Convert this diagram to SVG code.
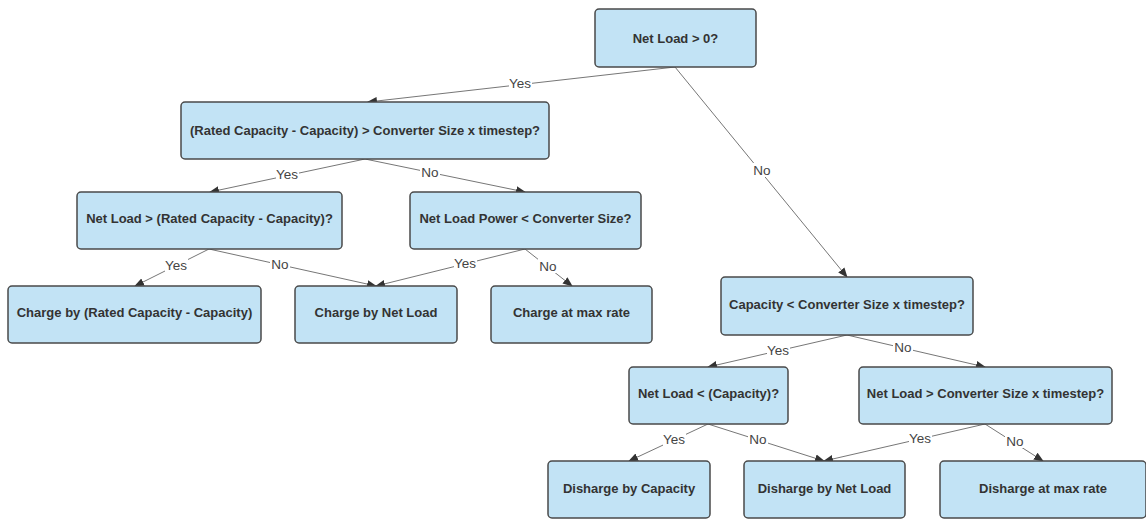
<svg xmlns="http://www.w3.org/2000/svg" width="1146" height="519" viewBox="0 0 1146 519">
<defs>
<marker id="ah" viewBox="0 0 10 10" refX="9" refY="5" markerWidth="10" markerHeight="10" markerUnits="userSpaceOnUse" orient="auto">
<path d="M0,1 L10,5 L0,9 Z" fill="#333"/>
</marker>
<style>
.n rect{fill:#c2e3f5;stroke:#4a4a4a;stroke-width:1.5}
.n text{font-family:"Liberation Sans",Arial,sans-serif;font-weight:bold;font-size:13px;fill:#333;text-anchor:middle;dominant-baseline:central}
.c line{stroke:#666;stroke-width:0.9;marker-end:url(#ah)}
.l rect{fill:#fff}
.l text{font-family:"Liberation Sans",Arial,sans-serif;font-size:13.5px;fill:#444;text-anchor:middle;dominant-baseline:central}
</style>
</defs>
<rect width="1146" height="519" fill="#fff"/>
<g class="c" id="connectors">
<line x1="675" y1="67" x2="368" y2="102"/>
<line x1="675" y1="67" x2="847" y2="277"/>
<line x1="365" y1="159" x2="210" y2="192"/>
<line x1="365" y1="159" x2="525" y2="192"/>
<line x1="209" y1="249" x2="135" y2="286"/>
<line x1="209" y1="249" x2="376" y2="286"/>
<line x1="525" y1="249" x2="376" y2="286"/>
<line x1="525" y1="249" x2="572" y2="286"/>
<line x1="847" y1="335" x2="708" y2="367"/>
<line x1="847" y1="335" x2="985" y2="367"/>
<line x1="708" y1="424" x2="629" y2="461"/>
<line x1="708" y1="424" x2="824" y2="461"/>
<line x1="985" y1="424" x2="824" y2="461"/>
<line x1="985" y1="424" x2="1043" y2="461"/>
</g>
<g class="l" id="labels">
<rect x="509" y="76" width="23" height="14"/><text x="520" y="83">Yes</text>
<rect x="752" y="163" width="20" height="14"/><text x="762" y="170">No</text>
<rect x="276" y="167" width="23" height="14"/><text x="287" y="174">Yes</text>
<rect x="420" y="165" width="20" height="14"/><text x="430" y="172">No</text>
<rect x="165" y="258" width="23" height="14"/><text x="176" y="265">Yes</text>
<rect x="270" y="257" width="20" height="14"/><text x="280" y="264">No</text>
<rect x="454" y="256" width="23" height="14"/><text x="465" y="263">Yes</text>
<rect x="538" y="259" width="20" height="14"/><text x="548" y="266">No</text>
<rect x="767" y="343" width="23" height="14"/><text x="778" y="350">Yes</text>
<rect x="893" y="340" width="20" height="14"/><text x="903" y="347">No</text>
<rect x="663" y="432" width="23" height="14"/><text x="674" y="439">Yes</text>
<rect x="748" y="432" width="20" height="14"/><text x="758" y="439">No</text>
<rect x="909" y="431" width="23" height="14"/><text x="920" y="438">Yes</text>
<rect x="1005" y="434" width="20" height="14"/><text x="1015" y="441">No</text>
</g>
<g class="n" id="n1"><rect x="595" y="9" width="161" height="58" rx="4"/><text x="675.5" y="38">Net Load &gt; 0?</text></g>
<g class="n" id="n2"><rect x="181" y="102" width="368" height="57" rx="4"/><text x="365" y="130.5">(Rated Capacity - Capacity) &gt; Converter Size x timestep?</text></g>
<g class="n" id="n3"><rect x="77" y="192" width="265" height="57" rx="4"/><text x="209.5" y="218">Net Load &gt; (Rated Capacity - Capacity)?</text></g>
<g class="n" id="n4"><rect x="410" y="192" width="231" height="57" rx="4"/><text x="525.5" y="218">Net Load Power &lt; Converter Size?</text></g>
<g class="n" id="n5"><rect x="8" y="286" width="253" height="57" rx="4"/><text x="134.5" y="312.5">Charge by (Rated Capacity - Capacity)</text></g>
<g class="n" id="n6"><rect x="295" y="286" width="162" height="57" rx="4"/><text x="376" y="312.5">Charge by Net Load</text></g>
<g class="n" id="n7"><rect x="491" y="286" width="161" height="57" rx="4"/><text x="571.5" y="312.5">Charge at max rate</text></g>
<g class="n" id="n8"><rect x="721" y="277" width="252" height="58" rx="4"/><text x="847" y="304">Capacity &lt; Converter Size x timestep?</text></g>
<g class="n" id="n9"><rect x="629" y="367" width="159" height="57" rx="4"/><text x="708.5" y="393">Net Load &lt; (Capacity)?</text></g>
<g class="n" id="n10"><rect x="859" y="367" width="253" height="57" rx="4"/><text x="985.5" y="393">Net Load &gt; Converter Size x timestep?</text></g>
<g class="n" id="n11"><rect x="548" y="461" width="162" height="57" rx="4"/><text x="629" y="488">Disharge by Capacity</text></g>
<g class="n" id="n12"><rect x="744" y="461" width="161" height="57" rx="4"/><text x="824.5" y="488">Disharge by Net Load</text></g>
<g class="n" id="n13"><rect x="940" y="461" width="206" height="57" rx="4"/><text x="1043" y="488">Disharge at max rate</text></g>
</svg>
